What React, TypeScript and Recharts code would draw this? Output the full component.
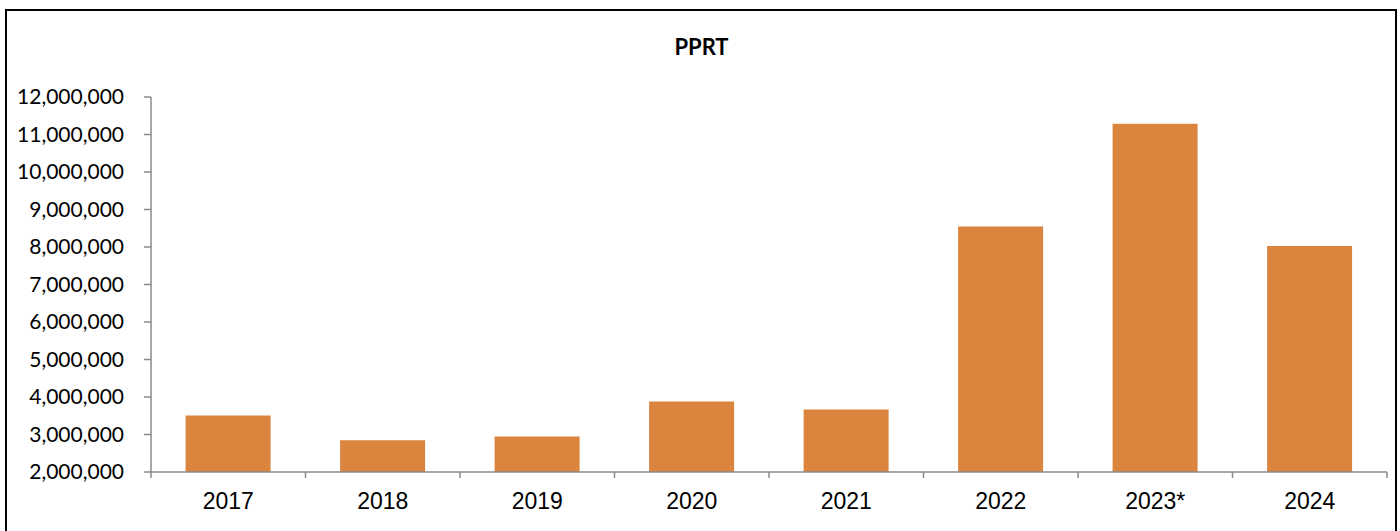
import React from "react";
import { BarChart, Bar, XAxis, YAxis } from "recharts";

const years = ["2017", "2018", "2019", "2020", "2021", "2022", "2023*", "2024"];
const pprt = [3510000, 2850000, 2950000, 3880000, 3670000, 8550000, 11290000, 8030000];
const yTicks = [2000000, 3000000, 4000000, 5000000, 6000000, 7000000, 8000000, 9000000, 10000000, 11000000, 12000000];

const data = years.map((year, i) => ({ year, value: pprt[i] }));

const axisGrey = "#8a8a8a";

// category label plus tick marks on the band edges (Excel style)
function YearTick(props: any) {
  const { x, y, payload, index } = props;
  const half = payload?.offset ?? 0;
  const axisY = y - 21;
  return (
    <g>
      <line x1={x - half} x2={x - half} y1={axisY} y2={axisY + 6} stroke={axisGrey} strokeWidth={1.5} />
      {index === years.length - 1 && (
        <line x1={x + half} x2={x + half} y1={axisY} y2={axisY + 6} stroke={axisGrey} strokeWidth={1.5} />
      )}
      <text
        x={x}
        y={y}
        dy="0.71em"
        textAnchor="middle"
        fill="#000"
        fontSize={23}
        fontFamily="'Liberation Sans', Arial, sans-serif"
      >
        {payload.value}
      </text>
    </g>
  );
}

export default function App() {
  return (
    <div style={{ position: "fixed", left: 0, top: 0, width: 1400, height: 531, overflow: "hidden", background: "#fff" }}>
      <div style={{ position: "absolute", left: 0, top: 0 }}>
        <BarChart
          width={1400}
          height={531}
          data={data}
          margin={{ top: 97, right: 13, left: 0, bottom: 0 }}
          barCategoryGap="22.4%"
        >
          <XAxis
            dataKey="year"
            height={59}
            tickLine={false}
            tickSize={6}
            tickMargin={15}
            interval={0}
            stroke={axisGrey}
            strokeWidth={1.5}
            tick={<YearTick />}
          />
          <YAxis
            width={151}
            domain={[2000000, 12000000]}
            ticks={yTicks}
            allowDataOverflow
            interval={0}
            tickSize={7}
            tickMargin={20}
            stroke={axisGrey}
            strokeWidth={1.5}
            tickFormatter={(v: number) => v.toLocaleString("en-US")}
            tick={{ fill: "#000", fontSize: 21, fontFamily: "Lato, 'Open Sans', sans-serif" }}
          />
          <Bar dataKey="value" fill="#DB843D" isAnimationActive={false} />
        </BarChart>
      </div>
      <div
        style={{
          position: "absolute", left: 0, width: 1400, top: 33, textAlign: "center",
          fontFamily: "Lato, 'Open Sans', sans-serif", fontWeight: 700, fontSize: 22,
          lineHeight: "28px", paddingLeft: 3, boxSizing: "border-box",
        }}
      >
        PPRT
      </div>
      <div
        style={{
          position: "absolute", left: 5, top: 9, width: 1392, height: 560,
          border: "2px solid #000", boxSizing: "border-box", pointerEvents: "none",
        }}
      />
    </div>
  );
}
